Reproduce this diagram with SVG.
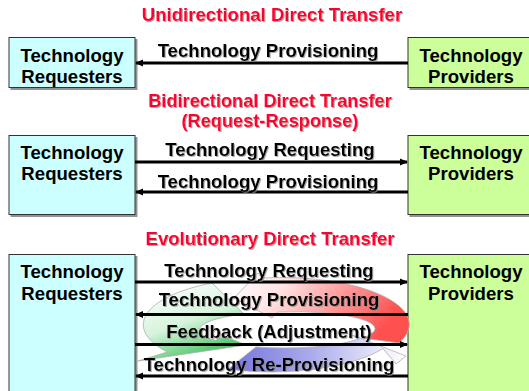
<svg xmlns="http://www.w3.org/2000/svg" width="529" height="391" viewBox="0 0 529 391">
  <defs>
    <style>
      text { font-family: "Liberation Sans", Arial, sans-serif; font-weight: bold; font-size: 18.6px; text-anchor: middle; }
      .title { fill: #FF0033; filter: url(#soft); }
      .two-line { font-size: 18.2px; }
      .lbl { fill: #000; filter: url(#soft); }
      .box-text { fill: #000; }
      .req { fill: #CCFFFF; stroke: #333; stroke-width: 1; filter: url(#boxshadow); }
      .prov { fill: #CCFF99; stroke: #333; stroke-width: 1; filter: url(#boxshadow); }
      .flow { stroke: #000; stroke-width: 3; fill: none; marker-end: url(#head); }
      .cyc { stroke: #b0b0b0; stroke-width: 0.8; }
    </style>
    <filter id="boxshadow" x="-5%" y="-5%" width="115%" height="115%">
      <feDropShadow dx="2" dy="2" stdDeviation="0.6" flood-color="#777" flood-opacity="0.8"/>
    </filter>
    <filter id="soft" x="-5%" y="-20%" width="110%" height="150%">
      <feDropShadow dx="1" dy="1" stdDeviation="0.4" flood-color="#888" flood-opacity="0.7"/>
    </filter>
    <marker id="head" viewBox="0 0 8 8" refX="7" refY="4" markerWidth="8" markerHeight="8" markerUnits="userSpaceOnUse" orient="auto">
      <path d="M0,0.5 L8,4 L0,7.5 z" fill="#000"/>
    </marker>
    <linearGradient id="gRed" x1="0" y1="0" x2="1" y2="0.3">
      <stop offset="0" stop-color="#ffffff"/>
      <stop offset="0.3" stop-color="#ffe4e4"/>
      <stop offset="1" stop-color="#ff5050"/>
    </linearGradient>
    <linearGradient id="gGreen" x1="0.2" y1="0" x2="0.7" y2="1">
      <stop offset="0" stop-color="#ffffff"/>
      <stop offset="0.5" stop-color="#d6f3dc"/>
      <stop offset="1" stop-color="#2ebb4c"/>
    </linearGradient>
    <linearGradient id="gBlue" x1="0" y1="0" x2="1" y2="0">
      <stop offset="0" stop-color="#7474dc"/>
      <stop offset="0.45" stop-color="#a8a8ea"/>
      <stop offset="1" stop-color="#ffffff"/>
    </linearGradient>
  </defs>

  <!-- section headings -->
  <text class="title" x="272" y="21">Unidirectional Direct Transfer</text>
  <text class="title two-line" x="270" y="107">Bidirectional Direct Transfer</text>
  <text class="title two-line" x="270" y="127">(Request-Response)</text>
  <text class="title" x="270" y="245">Evolutionary Direct Transfer</text>

  <!-- unidirectional -->
  <g id="uni-requesters">
    <rect class="req" x="9" y="37.5" width="126" height="50"/>
    <text class="box-text" x="72" y="62">Technology</text>
    <text class="box-text" x="72" y="83">Requesters</text>
  </g>
  <g id="uni-providers">
    <rect class="prov" x="408" y="37.5" width="126" height="50"/>
    <text class="box-text" x="471" y="62">Technology</text>
    <text class="box-text" x="471" y="83">Providers</text>
  </g>

  <!-- bidirectional -->
  <g id="bi-requesters">
    <rect class="req" x="9" y="135.5" width="126" height="79"/>
    <text class="box-text" x="72" y="159">Technology</text>
    <text class="box-text" x="72" y="180">Requesters</text>
  </g>
  <g id="bi-providers">
    <rect class="prov" x="408" y="135.5" width="126" height="79"/>
    <text class="box-text" x="471" y="159">Technology</text>
    <text class="box-text" x="471" y="180">Providers</text>
  </g>

  <!-- evolutionary -->
  <g id="evo-requesters">
    <rect class="req" x="9" y="254.5" width="126" height="150"/>
    <text class="box-text" x="72" y="278">Technology</text>
    <text class="box-text" x="72" y="300">Requesters</text>
  </g>
  <g id="evo-providers">
    <rect class="prov" x="408" y="254.5" width="126" height="150"/>
    <text class="box-text" x="471" y="278">Technology</text>
    <text class="box-text" x="471" y="300">Providers</text>
  </g>

  <!-- feedback cycle behind the evolutionary flows -->
  <g id="cycle">
    <path class="cyc" fill="url(#gGreen)" d="M212,283 A128,47 0 0 0 167.1,352 L138,361 L246,345 L224,336 L215.4,340.3 A85,18 0 0 1 244,314 Z"/>
    <path class="cyc" fill="url(#gBlue)" d="M228.2,369.2 A128,47 0 0 0 382.9,348.5 L396,364 L406,356 L350,334 L358.6,339 A85,18 0 0 1 255.9,346.9 Z"/>
    <path class="cyc" fill="url(#gRed)" d="M399,343 A128,47 0 0 0 262,278 L258,273 L234,298 L272,318 L277.6,312.1 A80,17 0 0 1 362,338 Z"/>
  </g>

  <!-- connectors -->
  <g id="connectors">
    <line class="flow" x1="408" y1="63" x2="136" y2="63"/>
    <line class="flow" x1="135" y1="162" x2="407" y2="162"/>
    <line class="flow" x1="408" y1="192" x2="136" y2="192"/>
    <line class="flow" x1="135" y1="282" x2="407" y2="282"/>
    <line class="flow" x1="408" y1="314.5" x2="136" y2="314.5"/>
    <line class="flow" x1="135" y1="344.5" x2="407" y2="344.5"/>
    <line class="flow" x1="408" y1="376" x2="136" y2="376"/>
  </g>

  <!-- flow labels -->
  <g id="flow-labels">
    <text class="lbl" x="268" y="57">Technology Provisioning</text>
    <text class="lbl" x="270" y="156">Technology Requesting</text>
    <text class="lbl" x="268" y="188">Technology Provisioning</text>
    <text class="lbl" x="269" y="277">Technology Requesting</text>
    <text class="lbl" x="269" y="306">Technology Provisioning</text>
    <text class="lbl" x="269" y="338">Feedback (Adjustment)</text>
    <text class="lbl" x="269" y="371">Technology Re-Provisioning</text>
  </g>
</svg>
